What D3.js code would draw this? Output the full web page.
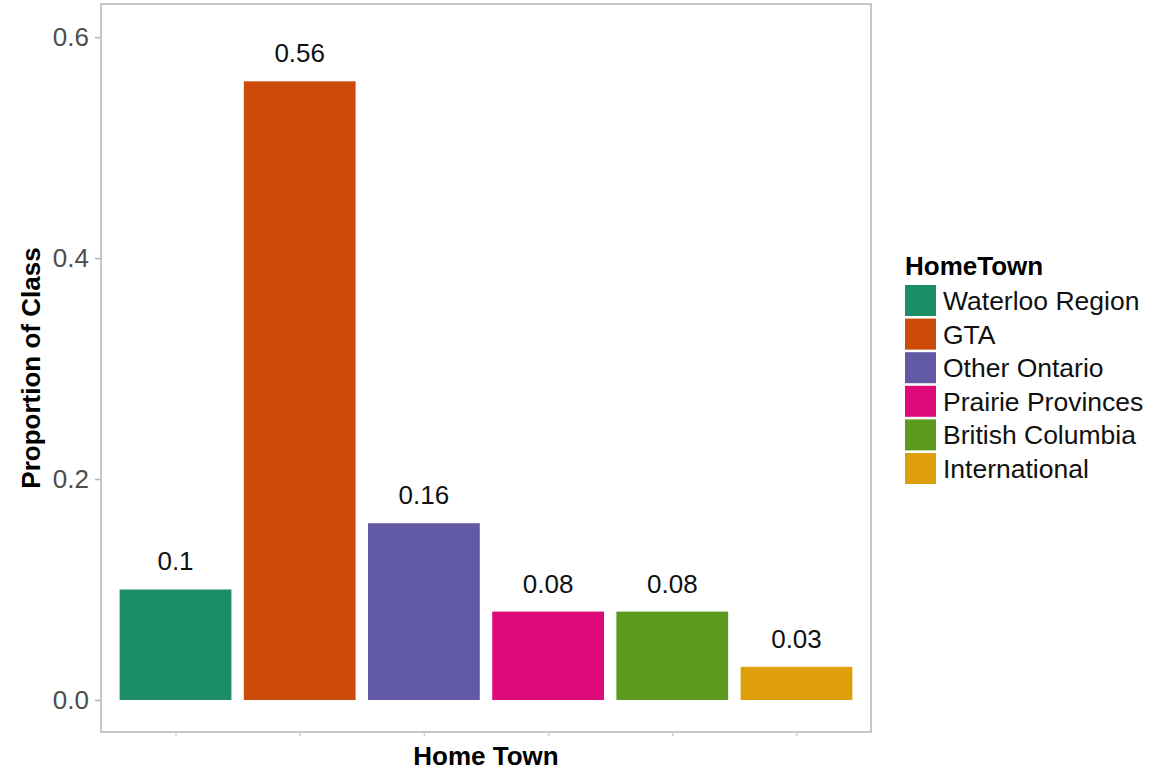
<!DOCTYPE html>
<html><head><meta charset="utf-8">
<script src="https://cdn.jsdelivr.net/npm/d3@7"></script>
<style>body{margin:0;background:#fff;}svg{display:block;font-family:"Liberation Sans",Arial,Helvetica,sans-serif;}</style>
</head><body>
<svg id="c" width="1161" height="772"></svg>
<script>
const categories = ["Waterloo Region","GTA","Other Ontario","Prairie Provinces","British Columbia","International"];
const values = [0.1, 0.56, 0.16, 0.08, 0.08, 0.03];
const labels = ["0.1","0.56","0.16","0.08","0.08","0.03"];
const colors = ["#1b8e68","#cd4b09","#6159a3","#de0a7a","#5a9a1d","#df9f0b"];
const yTicks = [0, 0.2, 0.4, 0.6];

const svg = d3.select("#c");
const P = {left:101, right:871, top:4, bottom:732};
const FS = 26;

const y = d3.scaleLinear().domain([-0.029, 0.63]).range([P.bottom, P.top]);
// ggplot discrete: expand 0.6 units each side, bar width 0.9
const step = (P.right-P.left)/(categories.length-1+1.2);
const x = d3.scalePoint().domain(categories).range([P.left+0.6*step, P.right-0.6*step]);
const bw = step*0.9;

svg.append("rect").attr("x",P.left).attr("y",P.top).attr("width",P.right-P.left).attr("height",P.bottom-P.top)
  .attr("fill","#fff");

// bars
svg.selectAll("rect.bar").data(categories).enter().append("rect").attr("class","bar")
  .attr("x",d=>x(d)-bw/2).attr("width",bw)
  .attr("y",(d,i)=>y(values[i])).attr("height",(d,i)=>y(0)-y(values[i]))
  .attr("fill",(d,i)=>colors[i]);

// labels
svg.selectAll("text.lab").data(categories).enter().append("text").attr("class","lab")
  .attr("x",d=>x(d)).attr("y",(d,i)=>y(values[i])-19)
  .attr("text-anchor","middle").attr("font-size",FS).attr("fill","#111")
  .text((d,i)=>labels[i]);

// border
svg.append("rect").attr("x",P.left).attr("y",P.top).attr("width",P.right-P.left).attr("height",P.bottom-P.top)
  .attr("fill","none").attr("stroke","#b5b5b5").attr("stroke-width",1.5);

// y axis
const yAxis = d3.axisLeft(y).tickValues(yTicks).tickFormat(d3.format(".1f")).tickSize(6).tickPadding(6);
const gy = svg.append("g").attr("transform",`translate(${P.left},0)`).call(yAxis);
gy.select(".domain").remove();
gy.selectAll("line").attr("stroke","#b5b5b5").attr("stroke-width",1.5);
gy.selectAll("text").attr("font-size",FS).attr("fill","#4d4d4d").attr("font-family","Liberation Sans,Arial,sans-serif");

// x axis ticks (no labels)
const xAxis = d3.axisBottom(x).tickSize(4).tickFormat("");
const gx = svg.append("g").attr("transform",`translate(0,${P.bottom})`).call(xAxis);
gx.select(".domain").remove();
gx.selectAll("line").attr("stroke","#d0d0d0").attr("stroke-width",1.5);

// axis titles
svg.append("text").attr("x",(P.left+P.right)/2).attr("y",765).attr("text-anchor","middle")
  .attr("font-size",FS).attr("font-weight","bold").attr("fill","#000").text("Home Town");
svg.append("text").attr("transform",`translate(40,${(P.top+P.bottom)/2}) rotate(-90)`).attr("text-anchor","middle")
  .attr("font-size",FS).attr("font-weight","bold").attr("fill","#000").text("Proportion of Class");

// legend
const lg = svg.append("g");
lg.append("text").attr("x",905).attr("y",275).attr("font-size",FS).attr("font-weight","bold").attr("fill","#000").text("HomeTown");
const rowH = 33.6, ky0 = 285;
categories.forEach((c,i)=>{
  lg.append("rect").attr("x",905).attr("y",ky0+i*rowH).attr("width",31).attr("height",31).attr("fill",colors[i]);
  lg.append("text").attr("x",943).attr("y",ky0+i*rowH+25).attr("font-size",FS+0.5).attr("fill","#111").text(c);
});
</script>
</body></html>
